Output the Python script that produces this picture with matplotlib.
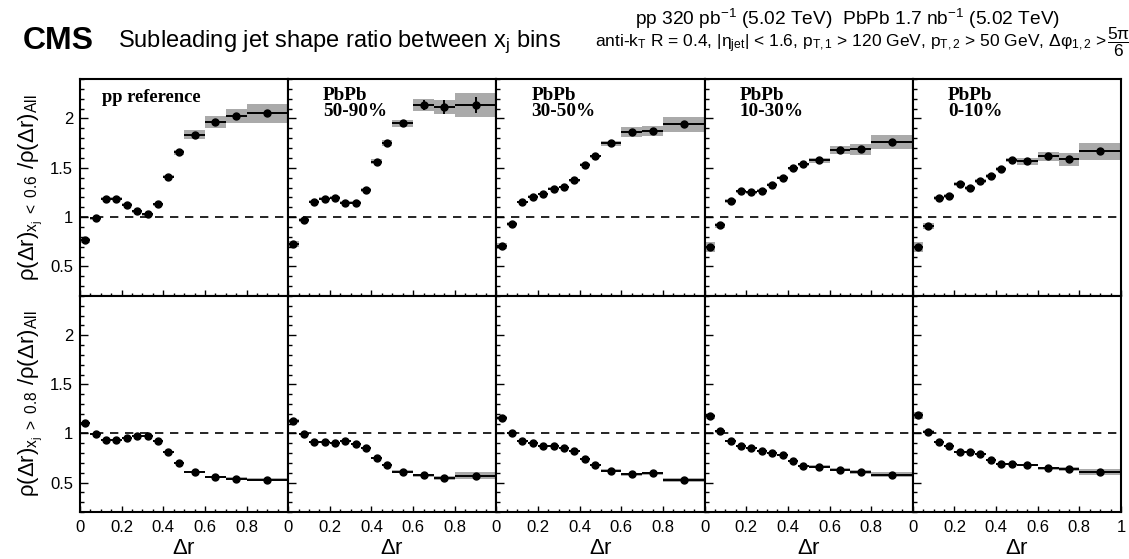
import numpy as np
import matplotlib
matplotlib.use("Agg")
import matplotlib.pyplot as plt
from matplotlib.ticker import MultipleLocator, FixedLocator, FixedFormatter

plt.rcParams['font.family'] = ['Liberation Sans', 'DejaVu Sans']
plt.rcParams['mathtext.fontset'] = 'custom'
plt.rcParams['mathtext.rm'] = 'Liberation Sans'
plt.rcParams['mathtext.it'] = 'Liberation Sans:italic'
plt.rcParams['mathtext.bf'] = 'Liberation Sans:bold'

# ---------------- data ----------------
bin_edges = [0.0, 0.05, 0.10, 0.15, 0.20, 0.25, 0.30, 0.35, 0.40, 0.45, 0.50, 0.60, 0.70, 0.80, 1.00]

panel_labels = ["pp reference", "PbPb\n50-90%", "PbPb\n30-50%", "PbPb\n10-30%", "PbPb\n0-10%"]

# top row: x_j < 0.6
top_vals = [
    [0.765, 0.986, 1.184, 1.184, 1.126, 1.061, 1.031, 1.129, 1.408, 1.656, 1.837, 1.963, 2.024, 2.051],
    [0.731, 0.966, 1.156, 1.184, 1.194, 1.146, 1.146, 1.276, 1.561, 1.748, 1.949, 2.139, 2.119, 2.139],
    [0.707, 0.932, 1.153, 1.207, 1.231, 1.289, 1.303, 1.371, 1.531, 1.619, 1.748, 1.861, 1.871, 1.939],
    [0.697, 0.918, 1.163, 1.262, 1.252, 1.265, 1.327, 1.398, 1.493, 1.534, 1.575, 1.684, 1.687, 1.765],
    [0.697, 0.912, 1.194, 1.214, 1.340, 1.299, 1.364, 1.412, 1.490, 1.575, 1.565, 1.616, 1.588, 1.667],
]
top_stat = [
    [0.006, 0.006, 0.006, 0.006, 0.006, 0.006, 0.006, 0.006, 0.008, 0.010, 0.010, 0.012, 0.014, 0.016],
    [0.012, 0.015, 0.015, 0.015, 0.015, 0.015, 0.015, 0.020, 0.025, 0.030, 0.030, 0.050, 0.070, 0.080],
    [0.008, 0.010, 0.010, 0.010, 0.010, 0.010, 0.010, 0.010, 0.015, 0.015, 0.015, 0.020, 0.030, 0.040],
    [0.008, 0.010, 0.010, 0.010, 0.010, 0.010, 0.010, 0.010, 0.012, 0.012, 0.012, 0.020, 0.025, 0.030],
    [0.008, 0.010, 0.010, 0.010, 0.010, 0.010, 0.010, 0.010, 0.012, 0.012, 0.012, 0.020, 0.030, 0.035],
]
top_sys = [
    [0.025, 0.012, 0.015, 0.015, 0.015, 0.015, 0.015, 0.015, 0.015, 0.025, 0.045, 0.060, 0.070, 0.095],
    [0.030, 0.020, 0.015, 0.015, 0.015, 0.015, 0.015, 0.020, 0.025, 0.030, 0.035, 0.060, 0.070, 0.120],
    [0.035, 0.020, 0.015, 0.012, 0.012, 0.012, 0.012, 0.015, 0.015, 0.015, 0.025, 0.050, 0.050, 0.080],
    [0.047, 0.025, 0.020, 0.015, 0.015, 0.015, 0.015, 0.015, 0.015, 0.015, 0.025, 0.040, 0.055, 0.070],
    [0.055, 0.030, 0.020, 0.020, 0.020, 0.020, 0.020, 0.020, 0.020, 0.020, 0.032, 0.045, 0.065, 0.085],
]

# bottom row: x_j > 0.8
bot_vals = [
    [1.105, 0.993, 0.936, 0.936, 0.953, 0.970, 0.970, 0.926, 0.807, 0.699, 0.611, 0.557, 0.541, 0.530],
    [1.125, 0.993, 0.916, 0.909, 0.902, 0.919, 0.892, 0.851, 0.750, 0.682, 0.611, 0.574, 0.547, 0.571],
    [1.155, 1.003, 0.926, 0.902, 0.872, 0.872, 0.848, 0.818, 0.740, 0.679, 0.622, 0.584, 0.595, 0.527],
    [1.176, 1.020, 0.922, 0.875, 0.851, 0.824, 0.804, 0.777, 0.720, 0.666, 0.662, 0.632, 0.608, 0.581],
    [1.186, 1.017, 0.909, 0.868, 0.814, 0.811, 0.787, 0.733, 0.689, 0.686, 0.676, 0.645, 0.639, 0.608],
]
bot_stat = [
    [0.005, 0.005, 0.005, 0.005, 0.005, 0.005, 0.005, 0.005, 0.005, 0.005, 0.005, 0.006, 0.006, 0.006],
    [0.010, 0.010, 0.010, 0.010, 0.010, 0.010, 0.010, 0.010, 0.010, 0.010, 0.010, 0.010, 0.012, 0.012],
    [0.008, 0.008, 0.008, 0.008, 0.008, 0.008, 0.008, 0.008, 0.008, 0.008, 0.008, 0.008, 0.008, 0.010],
    [0.008, 0.008, 0.008, 0.008, 0.008, 0.008, 0.008, 0.008, 0.008, 0.008, 0.008, 0.008, 0.008, 0.010],
    [0.008, 0.008, 0.008, 0.008, 0.008, 0.008, 0.008, 0.008, 0.008, 0.008, 0.008, 0.008, 0.008, 0.010],
]
bot_sys = [
    [0.012, 0.008, 0.008, 0.008, 0.008, 0.008, 0.008, 0.008, 0.008, 0.008, 0.008, 0.010, 0.012, 0.015],
    [0.020, 0.010, 0.010, 0.010, 0.010, 0.010, 0.010, 0.010, 0.010, 0.010, 0.012, 0.015, 0.020, 0.034],
    [0.020, 0.010, 0.010, 0.010, 0.010, 0.010, 0.010, 0.010, 0.010, 0.010, 0.012, 0.015, 0.015, 0.020],
    [0.025, 0.012, 0.010, 0.010, 0.010, 0.010, 0.010, 0.010, 0.010, 0.010, 0.012, 0.015, 0.020, 0.025],
    [0.034, 0.015, 0.010, 0.010, 0.010, 0.010, 0.010, 0.010, 0.010, 0.010, 0.012, 0.015, 0.020, 0.034],
]

x_major = [0.0, 0.2, 0.4, 0.6, 0.8]
x_major_last = [0.0, 0.2, 0.4, 0.6, 0.8, 1.0]
x_labels = ["0", "0.2", "0.4", "0.6", "0.8"]
x_labels_last = ["0", "0.2", "0.4", "0.6", "0.8", "1"]
y_major = [0.5, 1.0, 1.5, 2.0]
y_labels = ["0.5", "1", "1.5", "2"]

# ---------------- figure ----------------
W, H = 1129, 559
fig = plt.figure(figsize=(W / 100, H / 100), dpi=100)

edges = np.array(bin_edges)
centers = 0.5 * (edges[:-1] + edges[1:])
widths = edges[1:] - edges[:-1]

pan_left = 80.0
pan_w = (1121.0 - 80.0) / 5
top_y0, top_y1 = 79.0, 296.0
bot_y0, bot_y1 = 296.0, 512.0

SYS_COLOR = "#aaaaaa"


def make_axes(i, y0, y1):
    x0 = pan_left + i * pan_w
    return fig.add_axes([x0 / W, 1 - y1 / H, pan_w / W, (y1 - y0) / H])


def draw(ax, vals, stat, sys, i, bottom_row):
    vals = np.array(vals)
    sys = np.array(sys)
    ax.bar(centers, 2 * sys, bottom=vals - sys, width=widths, color=SYS_COLOR,
           linewidth=0, zorder=1)
    ax.axhline(1.0, color="black", lw=1.2, ls=(0, (5, 4)), zorder=2)
    ax.errorbar(centers, vals, xerr=widths / 2, yerr=stat, fmt="o", color="black",
                ms=5, elinewidth=1.4, capsize=0, zorder=3)
    ax.set_xlim(0, 1)
    ax.set_ylim(0.2, 2.4)
    for s in ax.spines.values():
        s.set_linewidth(1.5)
    if i == 4:
        ax.xaxis.set_major_locator(FixedLocator(x_major_last))
        labs = x_labels_last
    else:
        ax.xaxis.set_major_locator(FixedLocator(x_major))
        labs = x_labels
    ax.xaxis.set_minor_locator(MultipleLocator(0.05))
    ax.yaxis.set_major_locator(FixedLocator(y_major))
    ax.yaxis.set_minor_locator(MultipleLocator(0.1))
    ax.tick_params(axis="both", which="both", direction="in", top=False, right=False,
                   width=1.0, labelsize=12)
    ax.tick_params(axis="x", which="major", length=4.5, pad=6)
    ax.tick_params(axis="x", which="minor", length=2.3)
    ax.tick_params(axis="y", which="major", length=5.5, pad=5)
    ax.tick_params(axis="y", which="minor", length=2.6)
    if bottom_row:
        ax.xaxis.set_major_formatter(FixedFormatter(labs))
        ax.set_xlabel(r"$\mathrm{\Delta r}$", fontsize=16, labelpad=2)
    else:
        ax.set_xticklabels([])
    if i == 0:
        ax.yaxis.set_major_formatter(FixedFormatter(y_labels))
    else:
        ax.set_yticklabels([])


for i in range(5):
    axt = make_axes(i, top_y0, top_y1)
    draw(axt, top_vals[i], top_stat[i], top_sys[i], i, False)
    axb = make_axes(i, bot_y0, bot_y1)
    draw(axb, bot_vals[i], bot_stat[i], bot_sys[i], i, True)
    if i == 0:
        axt.text(0.106, 0.955, panel_labels[i], transform=axt.transAxes, ha="left",
                 va="top", fontsize=13.3, fontweight="bold", family="Liberation Serif")
        axt.set_ylabel(r"$\mathrm{\rho(\Delta r)_{x_{j}\ <\ 0.6}\ /\rho(\Delta r)_{All}}$",
                       fontsize=16, labelpad=4)
        axb.set_ylabel(r"$\mathrm{\rho(\Delta r)_{x_{j}\ >\ 0.8}\ /\rho(\Delta r)_{All}}$",
                       fontsize=16, labelpad=4)
    else:
        axt.text(0.168, 0.965, panel_labels[i], transform=axt.transAxes, ha="left",
                 va="top", fontsize=13.8, fontweight="bold", family="Liberation Serif",
                 linespacing=0.92)

# ---------------- header ----------------
fig.text(23 / W, 1 - 49 / H, "CMS", fontsize=23, fontweight="bold", ha="left", va="baseline")
fig.text(118 / W, 1 - 47 / H, r"Subleading jet shape ratio between x$_\mathrm{j}$ bins",
         fontsize=17, ha="left", va="baseline")
fig.text(848 / W, 1 - 25 / H,
         r"pp 320 pb$^\mathrm{-1}$ (5.02 TeV)  PbPb 1.7 nb$^\mathrm{-1}$ (5.02 TeV)",
         fontsize=13.8, ha="center", va="baseline")
fig.text(1107 / W, 1 - 47 / H,
         r"anti-k$_\mathrm{T}$ R = 0.4, |$\mathrm{\eta_{jet}}$| < 1.6, p$_\mathrm{T,1}$ > 120 GeV, "
         r"p$_\mathrm{T,2}$ > 50 GeV, $\mathrm{\Delta\varphi_{1,2}}$ >",
         fontsize=12.5, ha="right", va="baseline")
fig.text(1119 / W, 1 - 47 / H, r"$\mathrm{\dfrac{5\pi}{6}}$",
         fontsize=12.5, ha="center", va="baseline")

fig.savefig("out.png", dpi=100)
